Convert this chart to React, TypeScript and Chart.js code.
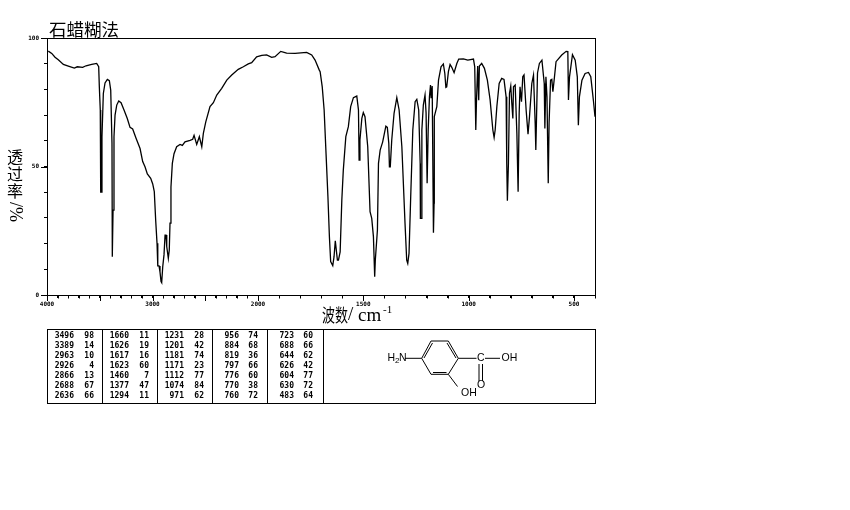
import React, { useEffect, useRef } from "react";
import { Chart, LinearScale, LineController, LineElement, PointElement } from "chart.js";

const wavenumbers = [
  3988, 3955, 3924, 3893, 3845, 3798, 3741, 3713, 3662, 3630, 3576, 3529, 3510, 3504, 3495, 3491, 3481, 3479, 3466, 3450, 3428, 3409, 3396, 3384, 3381, 3374, 3365, 3355, 3339, 3320, 3298, 3270, 3239, 3213, 3188, 3156, 3118, 3093, 3071, 3049, 3017, 2998, 2983, 2970, 2957, 2950, 2938, 2929, 2919, 2913, 2903, 2891, 2881, 2872, 2865, 2850, 2841, 2834, 2825, 2812, 2796, 2771, 2739, 2717, 2692, 2644, 2619, 2606, 2581, 2556, 2533, 2518, 2495, 2455, 2423, 2391, 2344, 2296, 2249, 2187, 2139, 2092, 2060, 2013, 1982, 1959, 1935, 1919, 1892, 1864, 1824, 1769, 1745, 1729, 1709,
  1705, 1695, 1686, 1677, 1668, 1661, 1655, 1645, 1639, 1633, 1630, 1623, 1618, 1610, 1602, 1595, 1583, 1571, 1560, 1547, 1531, 1523, 1520, 1516, 1507, 1500, 1492, 1479, 1468, 1460, 1452, 1446, 1443, 1433, 1428, 1420, 1408, 1393, 1386, 1379, 1376, 1372, 1365, 1354, 1341, 1330, 1317, 1302, 1294, 1289, 1283, 1275, 1265, 1254, 1246, 1237, 1230, 1229, 1224, 1222, 1215, 1207, 1202, 1197, 1192, 1186, 1181, 1178, 1173, 1167, 1164, 1163, 1151, 1143, 1131, 1120, 1113, 1108, 1104, 1096, 1088, 1080, 1069, 1056, 1047, 1025, 1004, 977, 971, 966, 963, 957, 952, 949, 938, 925, 911, 898, 885, 879, 874, 866, 855, 843, 832, 822, 819, 816, 811, 806, 800, 795, 790, 787, 779, 771, 765, 760, 756, 749, 743, 737, 727, 718, 711, 700, 692, 684, 681, 673, 664, 652, 641, 638, 633, 628, 622, 618, 611, 605, 600, 594, 585, 558, 537, 529, 526, 521, 507, 494, 484, 479, 474, 462, 447, 431, 420, 407, 400,
];
const transmittance = [
  94.9, 94.0, 92.5, 91.5, 89.7, 89.1, 88.3, 88.8, 88.6, 89.2, 89.7, 90.1, 88.8, 81, 72, 40, 40, 61.6, 78.4, 82.5, 83.9, 83.4, 79.7, 59, 14.9, 33, 61.6, 70, 73.9, 75.5, 74.8, 72, 68.7, 65.2, 64.6, 61, 57, 51.9, 49.9, 47.1, 45.4, 43.2, 40.2, 29.2, 20.1, 11.3, 11.3, 9, 5.2, 4.8, 11, 15.6, 23.3, 23.3, 18.8, 14.3, 17.5, 28, 42, 51.2, 55, 57.7, 58.6, 58.2, 59.6, 60.2, 60.6, 62.1, 58.6, 61.6, 57.7, 62.9, 67.4, 73.3, 74.8, 77.8, 80.4, 83.6, 85.6, 87.8, 88.8, 89.9, 90.4, 92.7, 93.2, 93.4, 92.5, 92.7, 94.8, 94.1, 94, 94.4, 93.4, 91.4, 87.5,
  86.9, 81, 72, 55.1, 38.2, 22.7, 13, 11.4, 14.9, 21.1, 21.1, 13.6, 13.6, 16.8, 37, 48.6, 61.6, 65.5, 73.3, 76.8, 77.4, 72, 52.5, 60.3, 68.7, 71, 69.4, 57.7, 32.4, 29.8, 22.7, 7.1, 13.6, 25.3, 51.2, 56.4, 59.6, 65.7, 65.2, 59, 49.9, 49.9, 60.3, 70.7, 76.8, 72, 57.7, 27.9, 13.6, 12.3, 16.2, 38.2, 64.2, 75.2, 76.1, 72, 51.2, 29.8, 29.8, 64.2, 73.9, 77.8, 70.8, 43.5, 64.2, 77.1, 81.7, 76.6, 81.3, 24.2, 35.8, 69.4, 73.3, 83.6, 88.8, 89.9, 86.2, 80.8, 81, 86.9, 89.7, 88.6, 86.5, 90.1, 91.8, 91.9, 91.4, 91.8, 88.8, 64.2, 74.7, 89.1, 75.8, 89.1, 90.1, 88.2, 83.6, 75.9, 64.2, 61.3, 64.2, 73.3, 82.3, 84.3, 83.9, 77.1, 51.3, 36.7, 51.3, 78.5, 81.3, 74.6, 68.7, 81, 81.7, 63, 40.2, 70.8, 81, 75.2, 84.9, 85.6, 72, 62.6, 69.4, 82.3, 85.6, 66.8, 56.4, 86.4, 90.1, 91.4, 82.3, 64.8, 84.9, 77.1, 43.5, 66.8, 83.6, 83.9, 79.1, 83.6, 90.8, 93.4, 94.8, 94.7, 75.9, 84.9, 93.5, 91.4, 84.9, 66.1, 77.1, 83.6, 86.2, 86.6, 84.9, 75.2, 69.4,
];

const xTickValues = [4000, 3900, 3800, 3700, 3600, 3500, 3400, 3300, 3200, 3100, 3000, 2900, 2800, 2700, 2600, 2500, 2400, 2300, 2200, 2100, 2000, 1900, 1800, 1700, 1600, 1500, 1400, 1300, 1200, 1100, 1000, 900, 800, 700, 600, 500, 400];
const xLabelled = [4000, 3000, 2000, 1500, 1000, 500];
const xLongTicks = [4000, 3500, 3000, 2500, 2000, 1500, 1000, 500];
const yLabelled = [0, 50, 100];

const peakWavenumbers = [
  ["3496", "3389", "2963", "2926", "2866", "2688", "2636"],
  ["1660", "1626", "1617", "1623", "1460", "1377", "1294"],
  ["1231", "1201", "1181", "1171", "1112", "1074", "971"],
  ["956", "884", "819", "797", "776", "770", "760"],
  ["723", "688", "644", "626", "604", "630", "483"],
];
const peakPercents = [
  ["98", "14", "10", "4", "13", "67", "66"],
  ["11", "19", "16", "60", "7", "47", "11"],
  ["28", "42", "74", "23", "77", "84", "62"],
  ["74", "68", "36", "66", "60", "38", "72"],
  ["60", "66", "62", "42", "77", "72", "64"],
];

const titleText = "石蜡糊法";
const yTitleChars = ["透", "过", "率"];
const CJK = '"Noto Sans CJK SC"';
const MONO = '"DejaVu Sans Mono"';

// IR axis: 4000-2000 cm-1 takes half the pixels per wavenumber of 2000-400 cm-1.
class IrScale extends LinearScale {
  static id = "ir";
  getPixelForValue(value: number) {
    const BREAK = 211 / 548;
    const f = value >= 2000 ? ((4000 - value) / 2000) * BREAK : BREAK + ((2000 - value) / 1600) * (1 - BREAK);
    return this.getPixelForDecimal(f);
  }
}

const decorations = {
  id: "decorations",
  afterDraw(chart: any) {
    const { ctx, chartArea: a, scales } = chart;
    ctx.save();
    ctx.strokeStyle = "#000";
    ctx.fillStyle = "#000";
    ctx.lineWidth = 1;
    const line = (x1: number, y1: number, x2: number, y2: number) => {
      ctx.beginPath();
      ctx.moveTo(x1, y1);
      ctx.lineTo(x2, y2);
      ctx.stroke();
    };
    // plot frame
    ctx.strokeRect(a.left + 0.5, a.top + 0.5, a.right - a.left, a.bottom - a.top);
    // x ticks: every 100 cm-1, longer every 500
    xTickValues.forEach((v) => {
      const x = Math.round(scales.x.getPixelForValue(v)) + 0.5;
      line(x, a.bottom, x, a.bottom + (xLongTicks.includes(v) ? 6 : 3.5));
    });
    yLabelled.forEach((v) => {
      const y = Math.round(scales.y.getPixelForValue(v)) + 0.5;
      line(a.left - 6, y, a.left, y);
    });
    // titles
    ctx.textBaseline = "middle";
    ctx.textAlign = "left";
    ctx.font = `17.5px ${CJK}`;
    ctx.fillText(titleText, 49, 29);
    ctx.textAlign = "center";
    ctx.font = `16px ${CJK}`;
    yTitleChars.forEach((c, i) => ctx.fillText(c, 15, 157 + i * 17));
    ctx.save();
    ctx.translate(15, 212);
    ctx.rotate(Math.PI / 2);
    ctx.font = `18px "Liberation Serif"`;
    ctx.fillText("/%", 0, 0);
    ctx.restore();
    ctx.save();
    ctx.translate(322, 315);
    ctx.scale(0.72, 1);
    ctx.textAlign = "left";
    ctx.font = `18px ${CJK}`;
    ctx.fillText("波数", 0, 0);
    ctx.restore();
    ctx.textAlign = "left";
    ctx.font = `19px "Liberation Serif"`;
    ctx.fillText("/", 348, 315);
    ctx.fillText("cm", 358, 316);
    ctx.font = `11px "Liberation Serif"`;
    ctx.fillText("-1", 383, 310);
    // peak table
    const tLeft = 47.5, tRight = 595.5, tTop = 329.5, tBottom = 403.5;
    ctx.strokeRect(tLeft, tTop, tRight - tLeft, tBottom - tTop);
    [102.5, 157.5, 212.5, 267.5, 323.5].forEach((x) => line(x, tTop, x, tBottom));
    const waveRight = [74, 129, 184, 239, 294];
    const pctRight = [94, 149, 204, 258, 313];
    ctx.font = `bold 8px ${MONO}`;
    ctx.textAlign = "right";
    peakWavenumbers.forEach((col, c) =>
      col.forEach((w, r) => {
        const y = 336 + r * 10.05;
        ctx.fillText(w, waveRight[c], y);
        ctx.fillText(peakPercents[c][r], pctRight[c], y);
      })
    );
    // structure: 4-aminosalicylic acid
    const ring: [number, number][] = [[421.7, 358.3], [431, 341], [448.3, 341], [458.3, 358.3], [448.3, 374.3], [431, 374.3]];
    ring.forEach((p, i) => {
      const q = ring[(i + 1) % 6];
      line(p[0], p[1], q[0], q[1]);
    });
    line(424, 358, 432.5, 343);
    line(447, 343, 456, 358);
    line(433, 372.5, 446.5, 372.5);
    line(405, 358.3, 421.7, 358.3);
    line(458.3, 358.3, 476.5, 358.3);
    line(485, 358.3, 500, 358.3);
    line(479, 364, 479, 381);
    line(482.5, 364, 482.5, 381);
    line(448.3, 374.3, 457.5, 386.5);
    ctx.font = `10.5px "Liberation Sans"`;
    ctx.textAlign = "left";
    ctx.fillText("H", 387.5, 358.5);
    ctx.font = `8px "Liberation Sans"`;
    ctx.fillText("2", 395, 361);
    ctx.font = `10.5px "Liberation Sans"`;
    ctx.fillText("N", 399, 358.5);
    ctx.fillText("C", 477, 358.5);
    ctx.fillText("OH", 501.5, 358.5);
    ctx.fillText("O", 477, 385);
    ctx.fillText("OH", 461, 393.5);
    ctx.restore();
  },
};

Chart.register(LineController, LineElement, PointElement, LinearScale, IrScale, decorations);

export default function App() {
  const ref = useRef<HTMLCanvasElement | null>(null);
  useEffect(() => {
    const chart = new Chart(ref.current as HTMLCanvasElement, {
      type: "line",
      data: {
        datasets: [
          {
            data: wavenumbers.map((w, i) => ({ x: w, y: transmittance[i] })),
            borderColor: "#000",
            borderWidth: 1.3,
            pointRadius: 0,
            tension: 0,
            fill: false,
          },
        ],
      },
      options: {
        animation: false,
        responsive: false,
        events: [],
        layout: { padding: { left: 0, top: 38, right: 255, bottom: 195 } },
        plugins: { legend: { display: false }, tooltip: { enabled: false } },
        scales: {
          x: {
            type: "ir",
            min: 400,
            max: 4000,
            afterBuildTicks: (s: any) => {
              s.ticks = xTickValues.map((value) => ({ value }));
            },
            afterFit: (s: any) => {
              s.height = 20;
            },
            border: { color: "#000", width: 1 },
            grid: { drawOnChartArea: false, drawTicks: true, tickLength: 3, tickColor: "#000" },
            ticks: {
              autoSkip: false,
              maxRotation: 0,
              minRotation: 0,
              padding: 3,
              color: "#000",
              font: { family: "DejaVu Sans Mono", size: 6, weight: "bold" },
              callback: (v: any) => (xLabelled.includes(Number(v)) ? String(v) : ""),
            },
          } as any,
          y: {
            type: "linear",
            min: 0,
            max: 100,
            afterFit: (s: any) => {
              s.width = 47;
            },
            border: { color: "#000", width: 1 },
            grid: { drawOnChartArea: false, drawTicks: true, tickLength: 3, tickColor: "#000" },
            ticks: {
              stepSize: 10,
              autoSkip: false,
              padding: 5,
              color: "#000",
              font: { family: "DejaVu Sans Mono", size: 6, weight: "bold" },
              callback: (v: any) => (yLabelled.includes(Number(v)) ? String(v) : ""),
            },
          },
        },
      },
      plugins: [],
    } as any);
    return () => chart.destroy();
  }, []);
  return (
    <div style={{ position: "fixed", left: 0, top: 0, width: 850, height: 510, background: "#fff" }}>
      <canvas ref={ref} width={850} height={510} style={{ display: "block", width: 850, height: 510 }} />
    </div>
  );
}
